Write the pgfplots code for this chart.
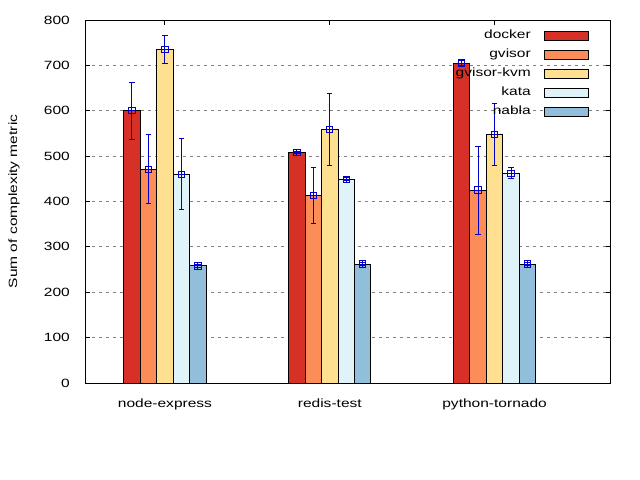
\documentclass[border=0pt]{standalone}
\usepackage{fontspec}
\setmainfont{Liberation Sans}[FakeStretch=1.3]
\usepackage{pgfplots}
\usepackage{pgfplotstable}
\pgfplotsset{compat=1.18}

\definecolor{cdocker}{RGB}{215,48,39}
\definecolor{cgvisor}{RGB}{252,141,89}
\definecolor{ckvm}{RGB}{254,224,144}
\definecolor{ckata}{RGB}{224,243,248}
\definecolor{cnabla}{RGB}{145,191,219}
\definecolor{errblue}{RGB}{0,0,200}

% x = 0 node-express, 1 redis-test, 2 python-tornado
\pgfplotstableread{
x y e
0 600 63
1 508 3
2 705 5
}\docker
\pgfplotstableread{
x y e
0 471 76
1 413 62
2 425 97
}\gvisor
\pgfplotstableread{
x y e
0 735 31
1 559 80
2 548 69
}\gvisorkvm
\pgfplotstableread{
x y e
0 460 78
1 449 3
2 462 12
}\kata
\pgfplotstableread{
x y e
0 258 4
1 262 4
2 262 4
}\nabla

% square with a plus inside, as gnuplot draws it
\pgfdeclareplotmark{boxplus}{%
  \pgfpathrectangle{\pgfqpoint{-\pgfplotmarksize}{-\pgfplotmarksize}}{\pgfqpoint{2\pgfplotmarksize}{2\pgfplotmarksize}}%
  \pgfpathmoveto{\pgfqpoint{-\pgfplotmarksize}{0pt}}\pgfpathlineto{\pgfqpoint{\pgfplotmarksize}{0pt}}%
  \pgfpathmoveto{\pgfqpoint{0pt}{-\pgfplotmarksize}}\pgfpathlineto{\pgfqpoint{0pt}{\pgfplotmarksize}}%
  \pgfusepathqstroke}

\pgfplotsset{
  % bar width 0.1 axis units = 16.484bp
  centre/.style={forget plot, only marks, mark=boxplus, bar shift=0pt, xshift=#1*16.484bp,
    draw=errblue, color=errblue, line width=1bp,
    mark options={draw=errblue, solid, fill=none, mark size=3.2bp, line width=1bp},
    error bars/.cd, y dir=both, y explicit,
    draw error bar/.code 2 args={%
      \draw[draw=errblue, line width=1bp] ##1 -- ##2
        node[pos=1, inner sep=0pt, outer sep=0pt, anchor=center] {\textcolor{errblue}{\rule{5.4bp}{1bp}}};}},
}

\begin{document}
\begin{tikzpicture}
\useasboundingbox (0,0) rectangle (640bp,480bp);
\begin{axis}[
  at={(85bp,97bp)}, anchor=south west,
  scale only axis, width=525bp, height=363bp,
  font=\fontsize{12}{14}\selectfont,
  /pgf/number format/assume math mode=true,
  ybar=0pt, bar width=0.1,
  xmin=-0.485, xmax=2.7, ymin=0, ymax=800,
  xtick={0,1,2}, xticklabels={node-express, redis-test, python-tornado},
  ytick distance=100,
  tick align=inside, major tick length=4.5bp,
  tick style={black, line width=1bp},
  axis line style={line width=1bp},
  ymajorgrids, major grid style={gray, line width=1bp, dash pattern=on 3bp off 4bp},
  xticklabel style={anchor=base, yshift=-24bp},
  yticklabel style={anchor=east, inner sep=0pt, xshift=-15bp},
  ylabel={Sum of complexity metric},
  every axis y label/.style={at={(axis description cs:-0.135,0.5)}, rotate=90, anchor=center},
  legend plot pos=right,
  legend cell align=right,
  legend image code/.code={\draw[#1, mark=none] (0bp,-4.5bp) rectangle (44bp,4.5bp);},
  legend style={at={(0.96,0.974)}, anchor=north east, draw=none, fill=none,
    inner sep=0pt, row sep=7bp, column sep=13bp,
    nodes={inner sep=0pt, text height=9bp, text depth=3bp}},
]
\addplot[fill=cdocker, draw=black, line width=1bp] table[x=x, y=y] {\docker};
\addplot[fill=cgvisor, draw=black, line width=1bp] table[x=x, y=y] {\gvisor};
\addplot[fill=ckvm, draw=black, line width=1bp] table[x=x, y=y] {\gvisorkvm};
\addplot[fill=ckata, draw=black, line width=1bp] table[x=x, y=y] {\kata};
\addplot[fill=cnabla, draw=black, line width=1bp] table[x=x, y=y] {\nabla};
\legend{docker, gvisor, gvisor-kvm, kata, nabla}
\addplot[centre=-2] table[x=x, y=y, y error=e] {\docker};
\addplot[centre=-1] table[x=x, y=y, y error=e] {\gvisor};
\addplot[centre=0] table[x=x, y=y, y error=e] {\gvisorkvm};
\addplot[centre=1] table[x=x, y=y, y error=e] {\kata};
\addplot[centre=2] table[x=x, y=y, y error=e] {\nabla};
\end{axis}
\end{tikzpicture}
\end{document}
